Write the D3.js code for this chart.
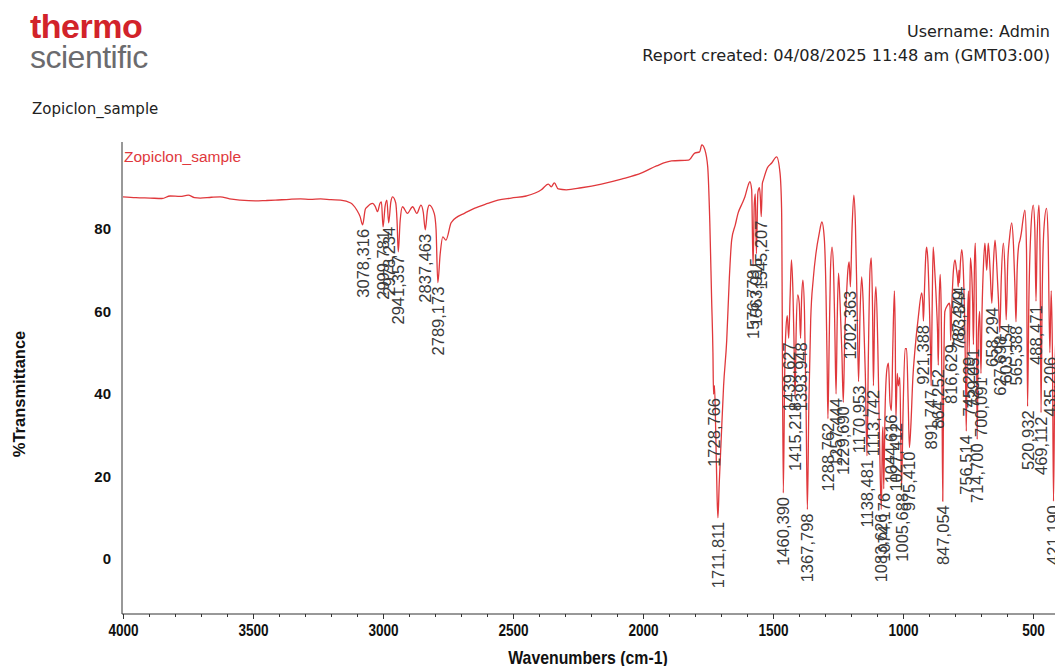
<!DOCTYPE html>
<html>
<head>
<meta charset="utf-8">
<script src="https://cdn.jsdelivr.net/npm/d3@7"></script>
<style>
  body { margin: 0; background: #fff; }
  svg { display: block; }
</style>
</head>
<body>
<svg id="chart" width="1055" height="666"></svg>
<script>
// Spectrum trace: wavenumber (cm-1) and %T between the labelled peaks
const specWn = [4000,3950,3896,3850,3819,3780,3749,3725,3703,3660,3626,3590,3549,3491,3450,3414,3360,3317,3280,3240,3200,3163,3124,3101,3088,
  3068,3060,3040,3030,3021,3012,3006,2992,2985,2970,2963,2951,2946,2934,2925,2906,2886,2870,2854,2845,2829,2822,2803,2796,
  2780,2770,2758,2738,2713,2687,2649,2597,2558,2507,2449,2391,2364,2353,2341,2326,2295,2237,2160,2083,2005,1948,1890,1825,1801,1782,1774,1762,1751,1743,1736,1731,
  1725,1720,1715,1707,1700,1690,1678,1668,1659,1645,1634,1620,1608,1595,1589,1582,1572,1568,1558,1552,1549,1541,1537,1522,1505,1486,1473,1467,
  1455,1450,1445,1434,1429,1423,1419,1411,1405,1399,1390,1385,1379,1373,1362,1355,1345,1335,1322,1312,1303,1296,1292,
  1284,1279,1273,1267,1262,1253,1248,1242,1235,1224,1218,1212,1207,1196,1189,1183,1177,1165,1159,1153,1145,1133,1127,1122,1117,
  1109,1104,1097,1090,1079,1077,1069,1062,1056,1050,1039,1033,1030,1022,1018,1012,1000,992,986,980,970,962,954,941,928,924,
  917,912,909,904,898,894,888,884,878,870,867,861,857,853,850,844,839,829,822,819,812,806,800,794,790,785,779,774,768,762,759,
  752,748,741,735,732,725,722,718,710,705,696,690,685,678,672,665,652,646,640,633,622,614,608,597,590,582,575,569,
  561,555,550,545,539,531,525,516,508,499,493,484,477,473,465,458,448,442,430,425,416,408,400];
const specT = [87.8,87.6,87.5,87.4,88.0,87.9,88.2,87.6,87.5,87.7,87.8,87.3,87.0,86.8,86.9,87.0,87.2,87.3,87.2,87.3,87.1,87.0,86.3,84.6,83.0,
  84.8,85.4,86.2,85.5,84.2,86.2,86.6,85.5,87.0,86.5,87.8,86.3,82,82,85.4,83.8,85.4,83.8,85.8,84,84.5,85.8,83.8,80,
  74,78.1,77.3,81.5,83.0,83.8,85.0,86.2,87.0,87.5,88.0,89.5,90.9,90.2,91.2,89.7,89.5,90.0,90.9,92.1,93.6,95.3,96.5,96.7,98.4,98.7,100.4,99.2,95,81.5,62.8,50,
  42,30,15,18,28,42,53,68,77.3,81,83.9,86,87.8,90.7,91.5,89.5,86,88.5,89,90,88,91,91.9,94.8,96,97.5,93.6,85,
  45,56,59,64,72.5,64,52,55,64,62,63,67.6,60,38,38,58,68,74,79,81.7,78,64,48,
  52,70,75.6,70,55,58,69.3,62,50,54,63,70,72,80,88.2,81,63,60,68.4,62,45,50,70,73,60,
  60,66,52,28,30,32,36,46,47.5,38,52,65,55,45,42,44,35,51,51,38,32,44,50.7,58.7,64.5,62,
  66,74,75.6,72,60,50,60,75.6,70,60,55,62,69,60,40,40,60,61.5,62,61,62,70,72.5,70,68,70,72,75,70,55,42,
  58,65,73,68,62,72,76.6,62,55,60,60,72,76.6,70,76.6,70,72,77.3,72,63,68,76.6,70,72,78,81.5,76,65,
  70,76,77.3,79,82,84.6,75,62,80,85.8,80,78,85.8,75,62,80,85,78,65,48,45,58,62];

// Labelled peak positions (cm-1) and their %T
const peakWn = [3078.316,2999.781,2978.234,2941.357,2837.463,2789.173,1728.766,1711.811,1576.778,1563.915,1545.207,
  1460.390,1439.627,1415.218,1393.948,1367.798,1288.762,1257.444,1229.690,1202.363,1170.953,1138.481,1113.742,
  1083.626,1074.176,1044.616,1027.412,1005.688,975.410,921.388,891.747,864.252,847.054,816.629,787.479,783.344,
  756.514,745.229,729.051,714.700,700.091,658.294,627.698,603.154,565.388,520.932,488.471,469.112,435.206,421.190];
const peakT = [81,80.5,81.5,74.5,79.8,67,40,10,71,74,83,
  16,53.5,39,53.5,12,34,40,38,66,43,25,42,
  12,17,36,34,17,27,57.7,42,47,14,53,66,67,
  31,50,52,29,45,62,55,58,57.5,37,62.5,35.5,50,14];

const xTickValues = [4000,3500,3000,2500,2000,1500,1000,500];
const yTickValues = [0,20,40,60,80];
const sampleName = "Zopiclon_sample";

const W = 1055, H = 666;
const plot = { left: 122, top: 142, bottom: 614, right: 1055 };

const svg = d3.select("#chart");
svg.append("rect").attr("width", W).attr("height", H).attr("fill", "#fff");

const x = d3.scaleLinear().domain([4000, 400]).range([123, 1059]);
const y = d3.scaleLinear().domain([0, 80]).range([559, 229]);

// ---- header ----
svg.append("text").attr("x", 30).attr("y", 38)
  .attr("font-family", "Liberation Sans, Arial, sans-serif").attr("font-weight", "bold")
  .attr("font-size", 34).attr("letter-spacing", -0.5).attr("fill", "#d2232a").text("thermo");
svg.append("text").attr("x", 30).attr("y", 68)
  .attr("font-family", "Liberation Sans, Arial, sans-serif")
  .attr("font-size", 32).attr("letter-spacing", -0.5).attr("fill", "#6b6b6e").text("scientific");

const hdrFont = "DejaVu Sans, Verdana, sans-serif";
svg.append("text").attr("x", 1050).attr("y", 37).attr("text-anchor", "end")
  .attr("font-family", hdrFont).attr("font-size", 16).attr("fill", "#222").text("Username: Admin");
svg.append("text").attr("x", 1050).attr("y", 61).attr("text-anchor", "end")
  .attr("font-family", hdrFont).attr("font-size", 16.2).attr("fill", "#222")
  .text("Report created: 04/08/2025 11:48 am (GMT03:00)");
svg.append("text").attr("x", 32).attr("y", 114)
  .attr("font-family", hdrFont).attr("font-size", 15).attr("fill", "#222").text(sampleName);

// ---- spectrum ----
const pts = specWn.map((w, i) => [w, specT[i]])
  .concat(peakWn.map((w, i) => [w, peakT[i]]))
  .sort((a, b) => b[0] - a[0]);

svg.append("defs").append("clipPath").attr("id", "plotClip")
  .append("rect").attr("x", plot.left).attr("y", plot.top)
  .attr("width", plot.right - plot.left).attr("height", plot.bottom - plot.top);

const line = d3.line().x(d => x(d[0])).y(d => y(d[1])).curve(d3.curveMonotoneX);
svg.append("path").datum(pts)
  .attr("clip-path", "url(#plotClip)")
  .attr("fill", "none").attr("stroke", "#e0383c").attr("stroke-width", 1.3)
  .attr("stroke-linejoin", "round").attr("d", line);

// peak labels, written upward from just below each band minimum
const fmt = v => v.toFixed(3).replace(".", ",");
svg.append("g").attr("font-family", "Liberation Sans, Arial, sans-serif")
  .attr("font-size", 16.5).attr("fill", "#3a3a3a")
  .selectAll("text").data(peakWn).join("text")
  .attr("text-anchor", "end")
  .attr("transform", (w, i) => `translate(${x(w) + 6},${y(peakT[i]) + 4}) rotate(-90)`)
  .text(w => fmt(w));

// series name inside the plot
svg.append("text").attr("x", 124).attr("y", 162)
  .attr("font-family", "Liberation Sans, Arial, sans-serif").attr("font-size", 15.5)
  .attr("fill", "#e0383c").text(sampleName);

// ---- axes ----
// condensed bold look for the axis text
const axisFont = "Liberation Sans, Arial, sans-serif";
const narrow = 0.8;
svg.append("line").attr("x1", plot.left).attr("x2", plot.left).attr("y1", plot.top).attr("y2", plot.bottom)
  .attr("stroke", "#333").attr("stroke-width", 1);
svg.append("line").attr("x1", plot.left).attr("x2", plot.right).attr("y1", plot.bottom).attr("y2", plot.bottom)
  .attr("stroke", "#333").attr("stroke-width", 1);

const xMinor = svg.append("g").attr("transform", `translate(0,${plot.bottom})`)
  .call(d3.axisBottom(x).tickValues(d3.range(4000, 399, -100)).tickSize(3).tickFormat(""));
xMinor.select(".domain").remove();
xMinor.selectAll("line").attr("stroke", "#333");

const xMajor = svg.append("g").attr("transform", `translate(0,${plot.bottom})`)
  .call(d3.axisBottom(x).tickValues(xTickValues).tickSize(5).tickPadding(5).tickFormat(d3.format("d")));
xMajor.select(".domain").remove();
xMajor.selectAll("line").attr("stroke", "#333");
xMajor.selectAll("text").attr("font-family", axisFont).attr("font-weight", "bold")
  .attr("font-size", 17).attr("fill", "#111").attr("transform", `scale(${narrow},1)`);

const yAx = svg.append("g").attr("transform", `translate(${plot.left},0)`)
  .call(d3.axisLeft(y).tickValues(yTickValues).tickSize(0).tickPadding(11).tickFormat(d3.format("d")));
yAx.select(".domain").remove();
yAx.selectAll("text").attr("font-family", axisFont).attr("font-weight", "bold")
  .attr("font-size", 15).attr("fill", "#111");

svg.append("text").attr("transform", `translate(25,394) rotate(-90)`).attr("text-anchor", "middle")
  .attr("font-family", axisFont).attr("font-weight", "bold").attr("font-size", 16.5).attr("fill", "#111")
  .text("%Transmittance");
svg.append("text").attr("transform", `translate(588,664) scale(0.88,1)`).attr("text-anchor", "middle")
  .attr("font-family", axisFont).attr("font-weight", "bold").attr("font-size", 18).attr("fill", "#111")
  .text("Wavenumbers (cm-1)");
</script>
</body>
</html>
